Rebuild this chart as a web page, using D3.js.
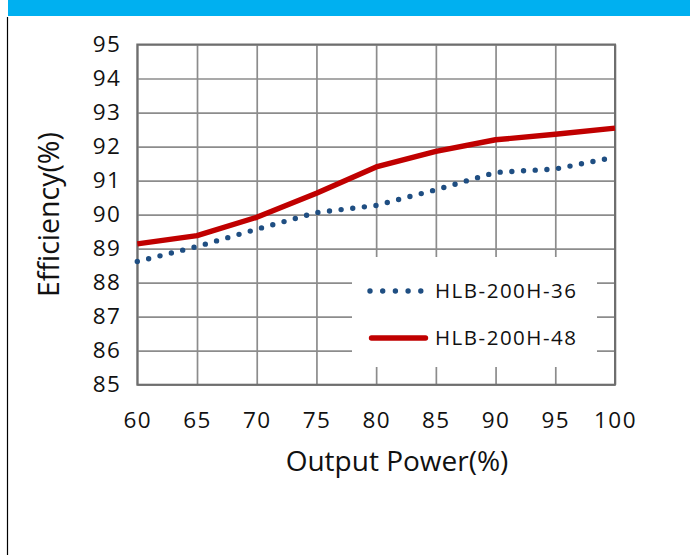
<!DOCTYPE html>
<html>
<head>
<meta charset="utf-8">
<script src="https://cdn.jsdelivr.net/npm/d3@7"></script>
<style>
  html, body { margin: 0; padding: 0; background: #fff; }
  svg { display: block; }
  text { font-family: "Open Sans", sans-serif; fill: #111; }
</style>
</head>
<body>
<svg id="chart" width="690" height="555"></svg>
<script>
// ---- data ----
const outputPower = [60, 65, 70, 75, 80, 85, 90, 95, 100];
const eff36 = [88.62, 89.06, 89.57, 90.06, 90.27, 90.73, 91.24, 91.34, 91.69];
const eff48 = [89.14, 89.38, 89.92, 90.63, 91.40, 91.86, 92.20, 92.36, 92.54];
const seriesNames = ["HLB-200H-36", "HLB-200H-48"];
const xTicks = [60, 65, 70, 75, 80, 85, 90, 95, 100];
const yTicks = [85, 86, 87, 88, 89, 90, 91, 92, 93, 94, 95];
const xTitle = "Output Power(%)";
const yTitle = "Efficiency(%)";

// ---- layout ----
const svg = d3.select("#chart");
const L = 137.3, R = 615, T = 44.5, B = 384.7;

// page decoration: blue band and left frame
svg.append("rect").attr("x", 8).attr("y", 0).attr("width", 682).attr("height", 16).attr("fill", "#00b0f0");
svg.append("line").attr("x1", 7.5).attr("x2", 7.5).attr("y1", 17).attr("y2", 555)
  .attr("stroke", "#000").attr("stroke-width", 1.2);

const x = d3.scaleLinear().domain([60, 100]).range([L, R]);
const y = d3.scaleLinear().domain([85, 95]).range([B, T]);

// gridlines via axes
const gx = svg.append("g").attr("transform", `translate(0,${B})`)
  .call(d3.axisBottom(x).tickValues(xTicks).tickSize(-(B - T)).tickFormat(""));
gx.select(".domain").remove();
gx.selectAll("line").attr("stroke", "#8c8c8c").attr("stroke-width", 1.7);

const gy = svg.append("g").attr("transform", `translate(${L},0)`)
  .call(d3.axisLeft(y).tickValues(yTicks).tickSize(-(R - L)).tickFormat(""));
gy.select(".domain").remove();
gy.selectAll("line").attr("stroke", "#8c8c8c").attr("stroke-width", 1.7);

// legend background (covers grid)
svg.append("rect").attr("x", 352).attr("y", 257).attr("width", 245).attr("height", 110).attr("fill", "#fff");

// plot border
svg.append("rect").attr("x", L).attr("y", T).attr("width", R - L).attr("height", B - T)
  .attr("fill", "none").attr("stroke", "#6e6e6e").attr("stroke-width", 2);

// tick labels
const xl = svg.append("g").attr("transform", `translate(0,${B})`)
  .call(d3.axisBottom(x).tickValues(xTicks).tickSize(0).tickPadding(27).tickFormat(d3.format("d")));
xl.select(".domain").remove();
xl.selectAll("text").attr("font-size", 22.5).attr("fill", "#111")
  .style("font-family", '"Open Sans", sans-serif').style("letter-spacing", "1.4px");

const yl = svg.append("g").attr("transform", `translate(${L},0)`)
  .call(d3.axisLeft(y).tickValues(yTicks).tickSize(0).tickPadding(16).tickFormat(d3.format("d")));
yl.select(".domain").remove();
yl.selectAll("text").attr("font-size", 22.5).attr("fill", "#111")
  .style("font-family", '"Open Sans", sans-serif').style("letter-spacing", "1.4px");

// axis titles
svg.append("text").attr("x", 397).attr("y", 471).attr("text-anchor", "middle")
  .attr("font-size", 28).text(xTitle);
svg.append("text").attr("transform", `translate(59,${(T + B) / 2}) rotate(-90)`)
  .attr("text-anchor", "middle").attr("font-size", 28.5).text(yTitle);

// series
const line = d3.line().x(d => x(d[0])).y(d => y(d[1]));
const d36 = outputPower.map((p, i) => [p, eff36[i]]);
const d48 = outputPower.map((p, i) => [p, eff48[i]]);

svg.append("path").attr("d", line(d36)).attr("fill", "none")
  .attr("stroke", "#1f4e82").attr("stroke-width", 5.4).attr("stroke-linecap", "round")
  .attr("stroke-dasharray", "0 11.7");
svg.append("path").attr("d", line(d48)).attr("fill", "none")
  .attr("stroke", "#c00000").attr("stroke-width", 5.4).attr("stroke-linejoin", "round");

// legend
const lg = svg.append("g");
lg.append("line").attr("x1", 370).attr("x2", 421).attr("y1", 291).attr("y2", 291)
  .attr("stroke", "#1f4e82").attr("stroke-width", 5.4).attr("stroke-linecap", "round")
  .attr("stroke-dasharray", "0 12.7");
lg.append("line").attr("x1", 371.5).attr("x2", 425.5).attr("y1", 338).attr("y2", 338)
  .attr("stroke", "#c00000").attr("stroke-width", 5.4).attr("stroke-linecap", "round");
lg.append("text").attr("x", 435).attr("y", 298).attr("font-size", 20.5).style("letter-spacing", "1.5px").text(seriesNames[0]);
lg.append("text").attr("x", 435).attr("y", 345).attr("font-size", 20.5).style("letter-spacing", "1.5px").text(seriesNames[1]);
</script>
</body>
</html>
